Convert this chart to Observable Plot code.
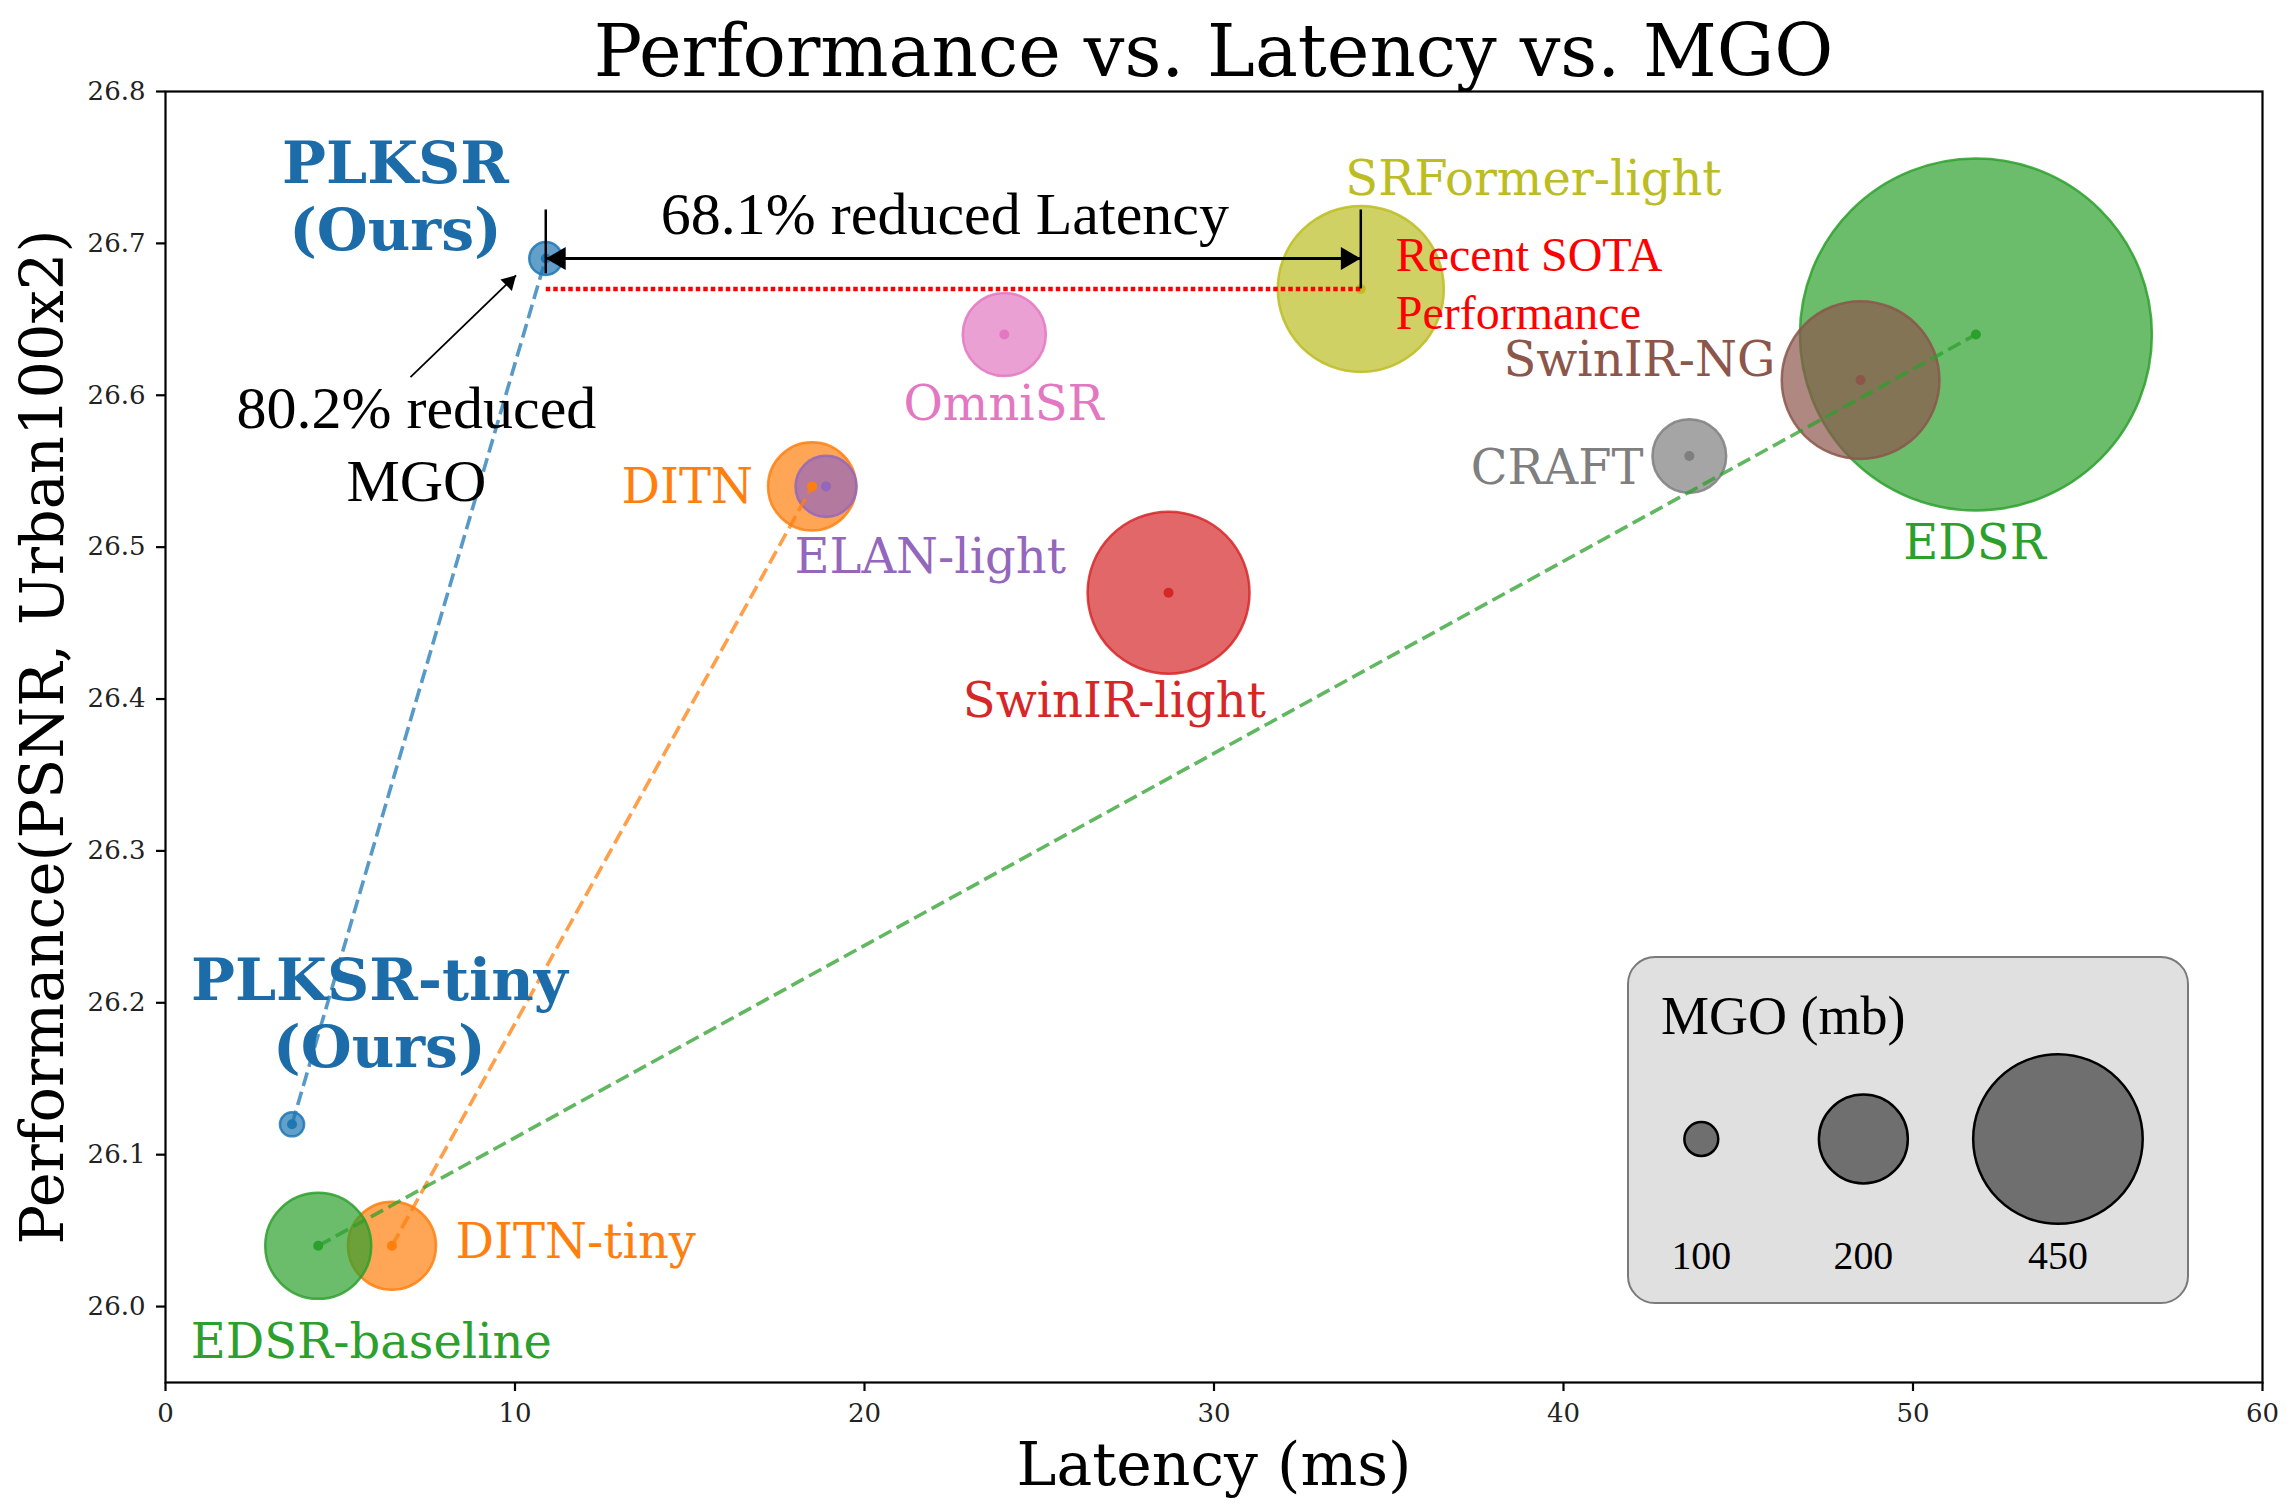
<!DOCTYPE html>
<html>
<head>
<meta charset="utf-8">
<script src="https://cdn.jsdelivr.net/npm/d3@7"></script>
<script src="https://cdn.jsdelivr.net/npm/@observablehq/plot@0.6"></script>
<style>
html, body { margin: 0; padding: 0; background: #fff; }
#wrap { position: relative; width: 2296px; height: 1512px; overflow: hidden; background: #fff; }
#title { height: 90px; box-sizing: border-box; padding: 15px 34px 0 165px; text-align: center;
  font: 72px/1 "DejaVu Serif", serif; color: #000; white-space: nowrap; }
#legend { position: absolute; left: 1627px; top: 956px; width: 562px; height: 348px; box-sizing: border-box;
  border: 2.5px solid #7a7a7a; border-radius: 28px; background: #e0e0e0; }
#legend-title { position: absolute; left: 32px; top: 31px; font: 54px/1 "Liberation Serif", serif; color: #000; white-space: nowrap; }
#legend-plot { position: absolute; left: -2.5px; top: -2.5px; }
</style>
</head>
<body>
<div id="wrap">
  <div id="title">Performance vs. Latency vs. MGO</div>
  <div id="chart"></div>
  <div id="legend"><div id="legend-plot"></div><div id="legend-title">MGO (mb)</div></div>
</div>
<script>
// ---- data ----
const models  = ["PLKSR-tiny", "PLKSR", "DITN-tiny", "EDSR-baseline", "DITN", "ELAN-light", "OmniSR", "SwinIR-light", "SRFormer-light", "CRAFT", "EDSR", "SwinIR-NG"];
const latency = [3.62, 10.88, 6.48, 4.37, 18.5, 18.9, 24.0, 28.7, 34.2, 43.6, 51.8, 48.5];
const psnr    = [26.12, 26.69, 26.04, 26.04, 26.54, 26.54, 26.64, 26.47, 26.67, 26.56, 26.64, 26.61];
const mgo     = [71, 97, 198, 252, 198, 149, 189, 425, 438, 172, 1013, 412];
const pairs   = [["PLKSR-tiny", "PLKSR"], ["DITN-tiny", "DITN"], ["EDSR-baseline", "EDSR"]];
const legendSizes = [100, 200, 450];
const xTicks = [0, 10, 20, 30, 40, 50, 60];
const yTicks = [26.0, 26.1, 26.2, 26.3, 26.4, 26.5, 26.6, 26.7, 26.8];

// ---- styles ----
const colorOf = {
  "PLKSR": "#1f77b4", "PLKSR-tiny": "#1f77b4",
  "EDSR": "#2ca02c", "EDSR-baseline": "#2ca02c",
  "DITN": "#ff7f0e", "DITN-tiny": "#ff7f0e",
  "ELAN-light": "#9467bd", "OmniSR": "#e377c2", "SwinIR-light": "#d62728",
  "SRFormer-light": "#bcbd22", "CRAFT": "#7f7f7f", "SwinIR-NG": "#8c564b"
};
const rScale = { type: "linear", domain: [0, 100, 200, 450], range: [0, 17, 44.6, 85], clamp: false };

// label anchors (data coordinates)
const labelSpots = [
  { model: "PLKSR", text: "PLKSR\n(Ours)", x: 6.58, y: 26.732, anchor: "middle", bold: true },
  { model: "PLKSR-tiny", text: "PLKSR-tiny\n(Ours)", x: 6.12, y: 26.194, anchor: "middle", bold: true },
  { model: "EDSR-baseline", text: "EDSR-baseline", x: 0.72, y: 25.976, anchor: "start" },
  { model: "DITN-tiny", text: "DITN-tiny", x: 8.3, y: 26.042, anchor: "start" },
  { model: "DITN", text: "DITN", x: 16.81, y: 26.539, anchor: "end" },
  { model: "ELAN-light", text: "ELAN-light", x: 21.88, y: 26.493, anchor: "middle" },
  { model: "OmniSR", text: "OmniSR", x: 23.98, y: 26.594, anchor: "middle" },
  { model: "SwinIR-light", text: "SwinIR-light", x: 27.15, y: 26.398, anchor: "middle" },
  { model: "SRFormer-light", text: "SRFormer-light", x: 39.14, y: 26.742, anchor: "middle" },
  { model: "SwinIR-NG", text: "SwinIR-NG", x: 46.06, y: 26.623, anchor: "end" },
  { model: "CRAFT", text: "CRAFT", x: 42.29, y: 26.552, anchor: "end" },
  { model: "EDSR", text: "EDSR", x: 51.76, y: 26.502, anchor: "middle" }
];

const table = models.map((m, i) => ({ model: m, latency: latency[i], psnr: psnr[i], mgo: mgo[i] }));
const byName = Object.fromEntries(table.map(d => [d.model, d]));
const ours = byName["PLKSR"], sota = byName["SRFormer-light"];

const chart = Plot.plot({
  width: 2296, height: 1422,
  marginTop: 1, marginLeft: 165, marginRight: 34, marginBottom: 130,
  x: { domain: [0, 60] },
  y: { domain: [25.95, 26.8] },
  r: rScale,
  color: { type: "identity" },
  style: { fontFamily: "DejaVu Serif", fontSize: "26px", background: "transparent", overflow: "visible", color: "#000" },
  marks: [
    Plot.axisX({ ticks: xTicks, tickSize: 9, tickPadding: 12, fontSize: 26, strokeWidth: 2.2, fill: "#222", label: null, tickFormat: d3.format("d") }),
    Plot.axisY({ ticks: yTicks, tickSize: 9, tickPadding: 11, fontSize: 26, strokeWidth: 2.2, fill: "#222", label: null, tickFormat: d3.format(".1f") }),
    // bubbles
    Plot.dot(table, { x: "latency", y: "psnr", r: "mgo", sort: null,
      fill: d => colorOf[d.model], fillOpacity: 0.7,
      stroke: d => colorOf[d.model], strokeOpacity: 0.85, strokeWidth: 2.5 }),
    // centre dots
    Plot.dot(table, { x: "latency", y: "psnr", r: 5, fill: d => colorOf[d.model] }),
    // dashed connectors
    Plot.link(pairs, {
      x1: p => byName[p[0]].latency, y1: p => byName[p[0]].psnr,
      x2: p => byName[p[1]].latency, y2: p => byName[p[1]].psnr,
      stroke: p => colorOf[p[0]], strokeOpacity: 0.75, strokeWidth: 3.6, strokeDasharray: "14,6"
    }),
    // recent SOTA performance dotted line
    Plot.link([sota], { x1: ours.latency, y1: d => d.psnr, x2: d => d.latency, y2: d => d.psnr,
      stroke: "#ff0000", strokeWidth: 4.5, strokeDasharray: "4.5,3" }),
    // vertical marker lines
    Plot.ruleX([ours], { x: "latency", y1: 26.722, y2: 26.68, stroke: "#000", strokeWidth: 2.5 }),
    Plot.ruleX([sota], { x: "latency", y1: 26.722, y2: "psnr", stroke: "#000", strokeWidth: 2.5 }),
    // latency arrow
    Plot.link([ours], { x1: "latency", y1: "psnr", x2: sota.latency, y2: "psnr", stroke: "#000", strokeWidth: 3 }),
    Plot.dot([ours], { x: "latency", y: "psnr", symbol: "triangle", r: 8.5, rotate: -90, dx: 13.3, fill: "#000" }),
    Plot.dot([ours], { x: sota.latency, y: "psnr", symbol: "triangle", r: 8.5, rotate: 90, dx: -13.3, fill: "#000" }),
    // MGO arrow
    Plot.link([ours], { x1: 7.01, y1: 26.612, x2: 10.03, y2: 26.679, stroke: "#000", strokeWidth: 1.8 }),
    Plot.dot([ours], { x: 10.03, y: 26.679, symbol: "triangle", r: 6, rotate: 45, dx: -6.6, dy: 6.6, fill: "#000" }),
    // annotations
    Plot.text(["68.1% reduced Latency"], { x: 22.30, y: 26.719, text: d => d, fontFamily: "Liberation Serif", fontSize: 60, fill: "#000", textAnchor: "middle", lineAnchor: "middle" }),
    Plot.text(["80.2% reduced\nMGO"], { x: 7.18, y: 26.5696, text: d => d, fontFamily: "Liberation Serif", fontSize: 60, lineHeight: 1.22, fill: "#000", textAnchor: "middle", lineAnchor: "middle" }),
    Plot.text(["Recent SOTA\nPerformance"], { x: 35.2, y: 26.675, text: d => d, fontFamily: "Liberation Serif", fontSize: 48, lineHeight: 1.2, fill: "#ff0000", textAnchor: "start", lineAnchor: "middle" }),
    // model labels
    Plot.text(labelSpots.filter(d => !d.bold && d.anchor === "middle"), { x: "x", y: "y", text: "text", fill: d => colorOf[d.model], fontSize: 48, textAnchor: "middle", lineAnchor: "middle" }),
    Plot.text(labelSpots.filter(d => !d.bold && d.anchor === "start"), { x: "x", y: "y", text: "text", fill: d => colorOf[d.model], fontSize: 48, textAnchor: "start", lineAnchor: "middle" }),
    Plot.text(labelSpots.filter(d => !d.bold && d.anchor === "end"), { x: "x", y: "y", text: "text", fill: d => colorOf[d.model], fontSize: 48, textAnchor: "end", lineAnchor: "middle" }),
    Plot.text(labelSpots.filter(d => d.bold), { x: "x", y: "y", text: "text", fill: "#1b6ca8", fontSize: 58.5, fontWeight: "bold", lineHeight: 1.15, textAnchor: "middle", lineAnchor: "middle" }),
    // axis titles
    Plot.text(["Latency (ms)"], { frameAnchor: "bottom", dy: 83, text: d => d, fontSize: 60, fill: "#000", textAnchor: "middle", lineAnchor: "middle" }),
    Plot.text(["Performance(PSNR, Urban100x2)"], { frameAnchor: "left", dx: -121, rotate: -90, text: d => d, fontSize: 59, fill: "#000", textAnchor: "middle", lineAnchor: "middle" }),
    Plot.frame({ stroke: "#000", strokeWidth: 2.2 })
  ]
});
document.getElementById("chart").append(chart);

const legend = Plot.plot({
  width: 562, height: 348, margin: 0,
  x: { type: "linear", domain: legendSizes, range: [74, 236.5, 431.6], axis: null },
  r: rScale,
  style: { fontFamily: "Liberation Serif", background: "transparent", overflow: "visible" },
  marks: [
    Plot.dot(legendSizes, { x: d => d, r: d => d, frameAnchor: "top", dy: 183, fill: "#6f6f6f", stroke: "#000", strokeWidth: 2.5 }),
    Plot.text(legendSizes, { x: d => d, text: d => String(d), frameAnchor: "top", dy: 301, fontSize: 40, fontFamily: "Liberation Serif", fill: "#000", lineAnchor: "middle" })
  ]
});
document.getElementById("legend-plot").append(legend);
</script>
</body>
</html>
